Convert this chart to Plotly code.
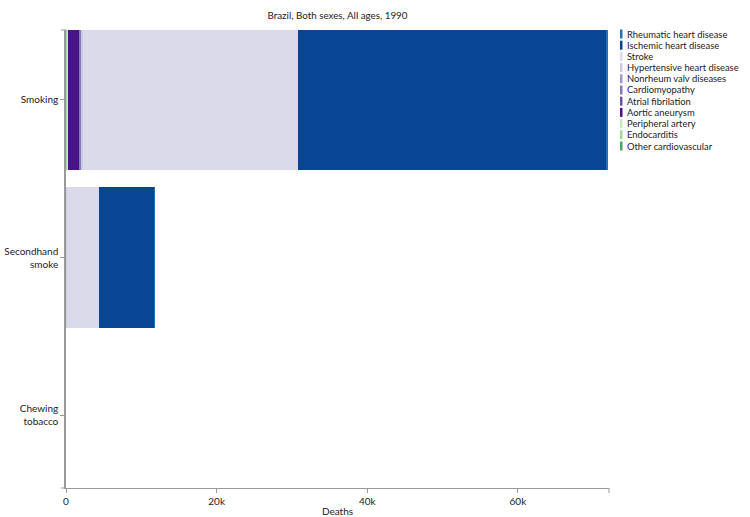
import plotly.graph_objects as go

categories = ["Smoking", "Secondhand smoke", "Chewing tobacco"]
category_labels = ["Smoking", "Secondhand<br>smoke", "Chewing<br>tobacco"]

causes = ["Rheumatic heart disease", "Ischemic heart disease", "Stroke",
          "Hypertensive heart disease", "Nonrheum valv diseases", "Cardiomyopathy",
          "Atrial fibrilation", "Aortic aneurysm", "Peripheral artery",
          "Endocarditis", "Other cardiovascular"]
colors = ["#2171b5", "#084594", "#dadaeb", "#cbcbe3", "#9e9ac8", "#807dba",
          "#6a51a3", "#4a1486", "#c7e9c0", "#a1d99b", "#41ab5d"]

# deaths per cause: [Smoking, Secondhand smoke, Chewing tobacco]
rheumatic = [120, 15, 0]
ischemic = [40950, 7400, 0]
stroke = [28550, 4300, 0]
hypertensive = [150, 30, 0]
nonrheum = [60, 5, 0]
cardiomyopathy = [200, 15, 0]
atrial_fib = [50, 3, 0]
aortic = [1550, 20, 0]
peripheral = [90, 5, 0]
endocarditis = [30, 3, 0]
other_cv = [120, 10, 0]

series = [rheumatic, ischemic, stroke, hypertensive, nonrheum, cardiomyopathy,
          atrial_fib, aortic, peripheral, endocarditis, other_cv]

x_tickvals = [0, 20000, 40000, 60000]
x_ticktext = ["0", "20k", "40k", "60k"]

FONT = "Lato"
fig = go.Figure()
# stack from left: Other cardiovascular first, Rheumatic last
for name, vals, col in reversed(list(zip(causes, series, colors))):
    fig.add_trace(go.Bar(
        y=categories, x=vals, name=name, orientation="h",
        marker=dict(color=col, line=dict(width=0)),
        showlegend=False,
        hovertemplate=name + ": %{x}<extra></extra>",
    ))

W, H = 750, 517
ml, mr, mt, mb = 66, 141, 30, 29
pw = W - ml - mr
ph = H - mt - mb

fig.update_layout(
    width=W, height=H,
    margin=dict(l=ml, r=mr, t=mt, b=mb, pad=0),
    barmode="stack", bargap=0.105,
    plot_bgcolor="white", paper_bgcolor="white",
    font=dict(family=FONT, size=10, color="#222"),
    title=dict(text="Brazil, Both sexes, All ages, 1990", x=(ml + pw / 2) / W,
               xanchor="center", y=1 - 16 / H, yanchor="middle",
               font=dict(size=9.8, color="#222")),
    xaxis=dict(range=[0, 72100], tickvals=x_tickvals, ticktext=x_ticktext,
               automargin=False,
               showgrid=False, zeroline=False, showline=True, linecolor="#999",
               linewidth=1, ticks="outside", ticklen=4, tickcolor="#999",
               tickfont=dict(size=10, color="#222"),
               title=dict(text="Deaths", font=dict(size=10, color="#222"), standoff=6)),
    yaxis=dict(range=[2.463, -0.444], tickvals=categories, ticktext=category_labels,
               automargin=False,
               showgrid=False, zeroline=False, showline=True, linecolor="#999",
               linewidth=1.5, ticks="outside", ticklen=4, tickcolor="#999",
               tickfont=dict(size=10, color="#222")),
)

# outer (domain) end ticks
shapes = [
    dict(type="line", xref="paper", yref="paper", x0=-5 / pw, x1=0, y0=1, y1=1,
         line=dict(color="#999", width=1)),
    dict(type="line", xref="paper", yref="paper", x0=-5 / pw, x1=0, y0=0, y1=0,
         line=dict(color="#999", width=1)),
    dict(type="line", xref="paper", yref="paper", x0=1, x1=1, y0=0, y1=-5 / ph,
         line=dict(color="#999", width=1)),
]
annotations = []
# custom legend
for i, (name, col) in enumerate(zip(causes, colors)):
    cy = 34 + i * 11.2
    yp = (H - mb - cy) / ph
    shapes.append(dict(type="rect", xref="paper", yref="paper",
                       x0=(620 - ml) / pw, x1=(622.5 - ml) / pw,
                       y0=yp - 4.5 / ph, y1=yp + 4.5 / ph,
                       fillcolor=col, line=dict(width=0)))
    annotations.append(dict(text=name, xref="paper", yref="paper",
                            x=(625 - ml) / pw, y=yp, xanchor="left", yanchor="middle",
                            showarrow=False, font=dict(size=9.4, color="#222")))
fig.update_layout(shapes=shapes, annotations=annotations)

fig.write_html("out.html", config={"displayModeBar": False},
               post_script="document.body.style.margin='0';document.body.style.padding='0';")
